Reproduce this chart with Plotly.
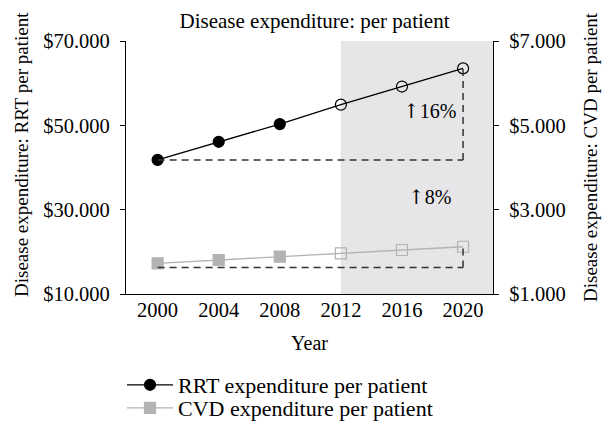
import plotly.graph_objects as go

years = [2000, 2004, 2008, 2012, 2016, 2020]
rrt = [41800, 46100, 50300, 54900, 59200, 63500]
cvd = [1728, 1806, 1885, 1964, 2043, 2120]
cvd_base = 1630
projected_from = 2012
rrt_label = "16%"
cvd_label = "8%"
left_ticks = [10000, 30000, 50000, 70000]
left_text = ["$10.000", "$30.000", "$50.000", "$70.000"]
right_ticks = [1000, 3000, 5000, 7000]
right_text = ["$1.000", "$3.000", "$5.000", "$7.000"]

FONT = "Liberation Serif"
ARROW = "<span style=\"font-family:'DejaVu Serif'\">↑</span>"
x_range = [1997.93, 2021.96]

L, R, T, B, W, H = 126, 111, 41, 137, 604, 431
pw, ph = W - L - R, H - T - B


def px_x(v):
    return (v - L) / pw


def px_y(v):
    return (H - B - v) / ph


fig = go.Figure()

# observed points filled, projected points open
rrt_sym = ["circle" if y < projected_from else "circle-open" for y in years]
cvd_sym = ["square" if y < projected_from else "square-open" for y in years]

fig.add_trace(go.Scatter(
    x=years, y=rrt, mode="lines+markers", name="RRT expenditure per patient",
    line=dict(color="black", width=1.3), legend="legend",
    marker=dict(symbol=rrt_sym, size=11, color="black", line=dict(width=1.2, color="black")),
))
fig.add_trace(go.Scatter(
    x=years, y=cvd, mode="lines+markers", name="CVD expenditure per patient",
    yaxis="y2", legend="legend2",
    line=dict(color="#b3b3b3", width=1.3),
    marker=dict(symbol=cvd_sym, size=11, color="#b3b3b3", line=dict(width=1.2, color="#b3b3b3")),
))

dash = dict(color="#333333", width=1.5, dash="7px,5px")
shapes = [
    dict(type="rect", xref="x", yref="paper", x0=projected_from, x1=x_range[1],
         y0=0, y1=1, fillcolor="#e6e6e8", line=dict(width=0), layer="below"),
    dict(type="line", xref="x", yref="y", x0=years[0], x1=years[-1],
         y0=rrt[0], y1=rrt[0], line=dash),
    dict(type="line", xref="x", yref="y", x0=years[-1], x1=years[-1],
         y0=rrt[0], y1=rrt[-1], line=dash),
    dict(type="line", xref="x", yref="y2", x0=years[0], x1=years[-1],
         y0=cvd_base, y1=cvd_base, line=dash),
    dict(type="line", xref="x", yref="y2", x0=years[-1], x1=years[-1],
         y0=cvd_base, y1=cvd[-1], line=dash),
]

ann_font = dict(family=FONT, size=20, color="black")
title_font = dict(family=FONT, size=19, color="black")
annotations = [
    dict(x=2017.8, y=53400, xref="x", yref="y", text=ARROW + rrt_label, showarrow=False, font=ann_font),
    dict(x=2017.8, y=3307, xref="x", yref="y2", text=ARROW + cvd_label, showarrow=False, font=ann_font),
    dict(x=px_x(21), y=px_y(155), xref="paper", yref="paper",
         xanchor="center", yanchor="middle",
         text="Disease expenditure: RRT per patient",
         textangle=-90, showarrow=False, font=title_font),
    dict(x=px_x(590), y=px_y(157), xref="paper", yref="paper",
         xanchor="center", yanchor="middle",
         text="Disease expenditure: CVD per patient",
         textangle=-90, showarrow=False, font=title_font),
]

tick_font = dict(family=FONT, size=20.5, color="black")
axis_common = dict(showgrid=False, zeroline=False, showline=True, linecolor="black",
                   linewidth=1.3, ticks="outside", ticklen=5, tickcolor="black",
                   tickwidth=1.3, ticklabelstandoff=6, tickfont=tick_font)

leg_common = dict(xanchor="left", yanchor="middle", font=dict(family=FONT, size=22, color="black"),
                  itemwidth=46, bgcolor="rgba(0,0,0,0)")

fig.update_layout(
    width=W, height=H,
    margin=dict(l=L, r=R, t=T, b=B, autoexpand=False),
    paper_bgcolor="white", plot_bgcolor="white",
    font=dict(family=FONT, size=20, color="black"),
    title=dict(text="Disease expenditure: per patient", x=314.5 / W, xanchor="center",
               y=1 - 21 / H, yanchor="middle", font=dict(family=FONT, size=21, color="black")),
    xaxis=dict(range=x_range, tickvals=years, showgrid=False, zeroline=False,
               showline=True, linecolor="black", linewidth=1.3, ticks="",
               ticklabelstandoff=-3, tickfont=tick_font,
               title=dict(text="Year", font=dict(family=FONT, size=20), standoff=16)),
    yaxis=dict(range=[10000, 70000], tickvals=left_ticks, ticktext=left_text, **axis_common),
    yaxis2=dict(range=[1000, 7000], tickvals=right_ticks, ticktext=right_text,
                overlaying="y", side="right", **axis_common),
    shapes=shapes,
    annotations=annotations,
    legend=dict(x=px_x(122), y=px_y(385), **leg_common),
    legend2=dict(x=px_x(122), y=px_y(408), **leg_common),
    showlegend=True,
)

# page body has a default 8px margin; drop it so the figure sits at the window origin
fig.write_html("out.html", config={"displayModeBar": False},
               post_script="document.body.style.margin='0';")
